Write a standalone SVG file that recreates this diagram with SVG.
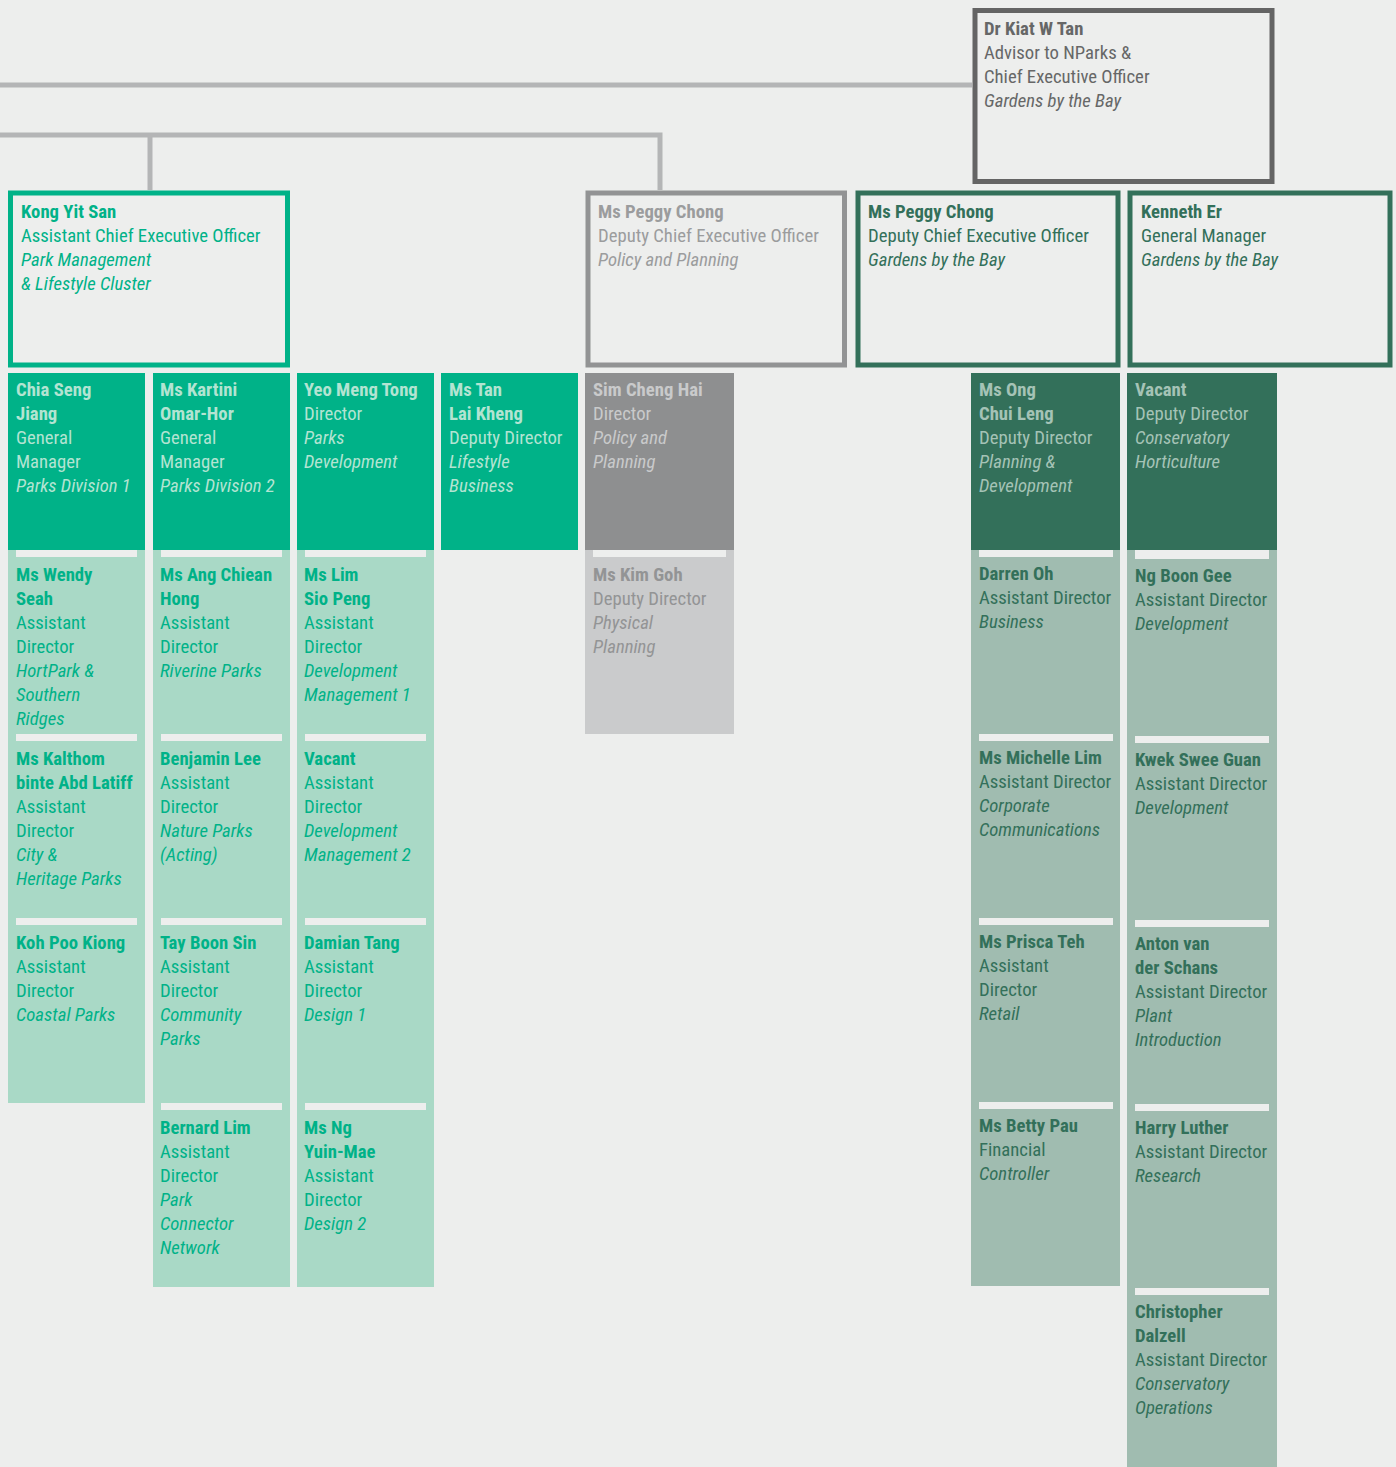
<svg xmlns="http://www.w3.org/2000/svg" width="1396" height="1467" viewBox="0 0 1396 1467">
<style>
text{font-family:"Roboto Condensed","Liberation Sans Narrow","DejaVu Sans Condensed",sans-serif;font-size:18.7px;font-weight:normal}
.b{font-weight:bold}
.i{font-style:italic}
.bar{fill:#edeeed}
.hg rect.c{fill:#00b288}.hg text{fill:#b3e4d2}
.sg rect.c{fill:#a9d9c6}.sg text{fill:#00b288}
.hd rect.c{fill:#33705a}.hd text{fill:#a5c3b6}
.sd rect.c{fill:#a0bcb0}.sd text{fill:#33705a}
.hy rect.c{fill:#8e8f90}.hy text{fill:#c9cacb}
.sy rect.c{fill:#cacbcc}.sy text{fill:#939495}
.box{fill:#edeeed;stroke-width:5}
.conn{fill:none;stroke:#b4b5b6;stroke-width:5}
</style>
<rect width="1396" height="1467" fill="#edeeed"/>
<g id="connectors">
<path class="conn" d="M0 85H972"/>
<path class="conn" d="M0 135H660V190"/>
<path class="conn" d="M150 135V190"/>
</g>
<g id="kiat-tan">
<rect class="box" x="975" y="10.5" width="297" height="171" stroke="#646464" stroke-width="6"/>
<g fill="#666767"><text x="984" y="35" class="b">Dr Kiat W Tan</text><text x="984" y="59">Advisor to NParks &amp;</text><text x="984" y="83">Chief Executive Officer</text><text x="984" y="107" class="i">Gardens by the Bay</text></g>
</g>
<g id="kong-yit-san">
<rect class="box" x="10.5" y="193" width="277" height="172" stroke="#00b288"/>
<g fill="#00b288"><text x="21" y="218" class="b">Kong Yit San</text><text x="21" y="242">Assistant Chief Executive Officer</text><text x="21" y="266" class="i">Park Management</text><text x="21" y="290" class="i">&amp; Lifestyle Cluster</text></g>
</g>
<g id="peggy-chong-policy">
<rect class="box" x="588" y="193" width="256.5" height="172" stroke="#929394"/>
<g fill="#9b9c9d"><text x="598" y="218" class="b">Ms Peggy Chong</text><text x="598" y="242">Deputy Chief Executive Officer</text><text x="598" y="266" class="i">Policy and Planning</text></g>
</g>
<g id="peggy-chong-gardens">
<rect class="box" x="858" y="193" width="260" height="172" stroke="#33705a"/>
<g fill="#33705a"><text x="868" y="218" class="b">Ms Peggy Chong</text><text x="868" y="242">Deputy Chief Executive Officer</text><text x="868" y="266" class="i">Gardens by the Bay</text></g>
</g>
<g id="kenneth-er">
<rect class="box" x="1130" y="193" width="260" height="172" stroke="#33705a"/>
<g fill="#33705a"><text x="1141" y="218" class="b">Kenneth Er</text><text x="1141" y="242">General Manager</text><text x="1141" y="266" class="i">Gardens by the Bay</text></g>
</g>

<!-- Column 1 -->
<g id="chia-seng-jiang" class="hg"><rect class="c" x="8" y="373" width="137" height="177"/>
<text x="16" y="396" class="b">Chia Seng</text><text x="16" y="420" class="b">Jiang</text><text x="16" y="444">General</text><text x="16" y="468">Manager</text><text x="16" y="492" class="i">Parks Division 1</text></g>
<g id="wendy-seah" class="sg"><rect class="c" x="8" y="550" width="137" height="184"/><rect class="bar" x="16" y="550" width="121" height="7"/>
<text x="16" y="581" class="b">Ms Wendy</text><text x="16" y="605" class="b">Seah</text><text x="16" y="629">Assistant</text><text x="16" y="653">Director</text><text x="16" y="677" class="i">HortPark &amp;</text><text x="16" y="701" class="i">Southern</text><text x="16" y="725" class="i">Ridges</text></g>
<g id="kalthom" class="sg"><rect class="c" x="8" y="734" width="137" height="184"/><rect class="bar" x="16" y="734" width="121" height="7"/>
<text x="16" y="765" class="b">Ms Kalthom</text><text x="16" y="789" class="b">binte Abd Latiff</text><text x="16" y="813">Assistant</text><text x="16" y="837">Director</text><text x="16" y="861" class="i">City &amp;</text><text x="16" y="885" class="i">Heritage Parks</text></g>
<g id="koh-poo-kiong" class="sg"><rect class="c" x="8" y="918" width="137" height="185"/><rect class="bar" x="16" y="918" width="121" height="7"/>
<text x="16" y="949" class="b">Koh Poo Kiong</text><text x="16" y="973">Assistant</text><text x="16" y="997">Director</text><text x="16" y="1021" class="i">Coastal Parks</text></g>

<!-- Column 2 -->
<g id="kartini-omar-hor" class="hg"><rect class="c" x="153" y="373" width="137" height="177"/>
<text x="160" y="396" class="b">Ms Kartini</text><text x="160" y="420" class="b">Omar-Hor</text><text x="160" y="444">General</text><text x="160" y="468">Manager</text><text x="160" y="492" class="i">Parks Division 2</text></g>
<g id="ang-chiean-hong" class="sg"><rect class="c" x="153" y="550" width="137" height="184"/><rect class="bar" x="161" y="550" width="121" height="7"/>
<text x="160" y="581" class="b">Ms Ang Chiean</text><text x="160" y="605" class="b">Hong</text><text x="160" y="629">Assistant</text><text x="160" y="653">Director</text><text x="160" y="677" class="i">Riverine Parks</text></g>
<g id="benjamin-lee" class="sg"><rect class="c" x="153" y="734" width="137" height="184"/><rect class="bar" x="161" y="734" width="121" height="7"/>
<text x="160" y="765" class="b">Benjamin Lee</text><text x="160" y="789">Assistant</text><text x="160" y="813">Director</text><text x="160" y="837" class="i">Nature Parks</text><text x="160" y="861" class="i">(Acting)</text></g>
<g id="tay-boon-sin" class="sg"><rect class="c" x="153" y="918" width="137" height="185"/><rect class="bar" x="161" y="918" width="121" height="7"/>
<text x="160" y="949" class="b">Tay Boon Sin</text><text x="160" y="973">Assistant</text><text x="160" y="997">Director</text><text x="160" y="1021" class="i">Community</text><text x="160" y="1045" class="i">Parks</text></g>
<g id="bernard-lim" class="sg"><rect class="c" x="153" y="1103" width="137" height="184"/><rect class="bar" x="161" y="1103" width="121" height="7"/>
<text x="160" y="1134" class="b">Bernard Lim</text><text x="160" y="1158">Assistant</text><text x="160" y="1182">Director</text><text x="160" y="1206" class="i">Park</text><text x="160" y="1230" class="i">Connector</text><text x="160" y="1254" class="i">Network</text></g>

<!-- Column 3 -->
<g id="yeo-meng-tong" class="hg"><rect class="c" x="297" y="373" width="137" height="177"/>
<text x="304" y="396" class="b">Yeo Meng Tong</text><text x="304" y="420">Director</text><text x="304" y="444" class="i">Parks</text><text x="304" y="468" class="i">Development</text></g>
<g id="lim-sio-peng" class="sg"><rect class="c" x="297" y="550" width="137" height="184"/><rect class="bar" x="305" y="550" width="121" height="7"/>
<text x="304" y="581" class="b">Ms Lim</text><text x="304" y="605" class="b">Sio Peng</text><text x="304" y="629">Assistant</text><text x="304" y="653">Director</text><text x="304" y="677" class="i">Development</text><text x="304" y="701" class="i">Management 1</text></g>
<g id="vacant-dm2" class="sg"><rect class="c" x="297" y="734" width="137" height="184"/><rect class="bar" x="305" y="734" width="121" height="7"/>
<text x="304" y="765" class="b">Vacant</text><text x="304" y="789">Assistant</text><text x="304" y="813">Director</text><text x="304" y="837" class="i">Development</text><text x="304" y="861" class="i">Management 2</text></g>
<g id="damian-tang" class="sg"><rect class="c" x="297" y="918" width="137" height="185"/><rect class="bar" x="305" y="918" width="121" height="7"/>
<text x="304" y="949" class="b">Damian Tang</text><text x="304" y="973">Assistant</text><text x="304" y="997">Director</text><text x="304" y="1021" class="i">Design 1</text></g>
<g id="ng-yuin-mae" class="sg"><rect class="c" x="297" y="1103" width="137" height="184"/><rect class="bar" x="305" y="1103" width="121" height="7"/>
<text x="304" y="1134" class="b">Ms Ng</text><text x="304" y="1158" class="b">Yuin-Mae</text><text x="304" y="1182">Assistant</text><text x="304" y="1206">Director</text><text x="304" y="1230" class="i">Design 2</text></g>

<!-- Column 4 -->
<g id="tan-lai-kheng" class="hg"><rect class="c" x="441" y="373" width="137" height="177"/>
<text x="449" y="396" class="b">Ms Tan</text><text x="449" y="420" class="b">Lai Kheng</text><text x="449" y="444">Deputy Director</text><text x="449" y="468" class="i">Lifestyle</text><text x="449" y="492" class="i">Business</text></g>

<!-- Gray column -->
<g id="sim-cheng-hai" class="hy"><rect class="c" x="585" y="373" width="149" height="177"/>
<text x="593" y="396" class="b">Sim Cheng Hai</text><text x="593" y="420">Director</text><text x="593" y="444" class="i">Policy and</text><text x="593" y="468" class="i">Planning</text></g>
<g id="kim-goh" class="sy"><rect class="c" x="585" y="550" width="149" height="184"/><rect class="bar" x="593" y="550" width="133" height="7"/>
<text x="593" y="581" class="b">Ms Kim Goh</text><text x="593" y="605">Deputy Director</text><text x="593" y="629" class="i">Physical</text><text x="593" y="653" class="i">Planning</text></g>

<!-- Ong column -->
<g id="ong-chui-leng" class="hd"><rect class="c" x="971" y="373" width="149" height="177"/>
<text x="979" y="396" class="b">Ms Ong</text><text x="979" y="420" class="b">Chui Leng</text><text x="979" y="444">Deputy Director</text><text x="979" y="468" class="i">Planning &amp;</text><text x="979" y="492" class="i">Development</text></g>
<g id="darren-oh" class="sd"><rect class="c" x="971" y="550" width="149" height="184"/><rect class="bar" x="979" y="550" width="134" height="7"/>
<text x="979" y="580" class="b">Darren Oh</text><text x="979" y="604">Assistant Director</text><text x="979" y="628" class="i">Business</text></g>
<g id="michelle-lim" class="sd"><rect class="c" x="971" y="734" width="149" height="184"/><rect class="bar" x="979" y="734" width="134" height="7"/>
<text x="979" y="764" class="b">Ms Michelle Lim</text><text x="979" y="788">Assistant Director</text><text x="979" y="812" class="i">Corporate</text><text x="979" y="836" class="i">Communications</text></g>
<g id="prisca-teh" class="sd"><rect class="c" x="971" y="918" width="149" height="184"/><rect class="bar" x="979" y="918" width="134" height="7"/>
<text x="979" y="948" class="b">Ms Prisca Teh</text><text x="979" y="972">Assistant</text><text x="979" y="996">Director</text><text x="979" y="1020" class="i">Retail</text></g>
<g id="betty-pau" class="sd"><rect class="c" x="971" y="1102" width="149" height="184"/><rect class="bar" x="979" y="1102" width="134" height="7"/>
<text x="979" y="1132" class="b">Ms Betty Pau</text><text x="979" y="1156">Financial</text><text x="979" y="1180" class="i">Controller</text></g>

<!-- Vacant column -->
<g id="vacant-horticulture" class="hd"><rect class="c" x="1127" y="373" width="150" height="177"/>
<text x="1135" y="396" class="b">Vacant</text><text x="1135" y="420">Deputy Director</text><text x="1135" y="444" class="i">Conservatory</text><text x="1135" y="468" class="i">Horticulture</text></g>
<g id="ng-boon-gee" class="sd"><rect class="c" x="1127" y="550" width="150" height="186"/><rect class="bar" x="1135" y="550" width="134" height="9"/>
<text x="1135" y="582" class="b">Ng Boon Gee</text><text x="1135" y="606">Assistant Director</text><text x="1135" y="630" class="i">Development</text></g>
<g id="kwek-swee-guan" class="sd"><rect class="c" x="1127" y="736" width="150" height="184"/><rect class="bar" x="1135" y="736" width="134" height="7"/>
<text x="1135" y="766" class="b">Kwek Swee Guan</text><text x="1135" y="790">Assistant Director</text><text x="1135" y="814" class="i">Development</text></g>
<g id="anton-van-der-schans" class="sd"><rect class="c" x="1127" y="920" width="150" height="184"/><rect class="bar" x="1135" y="920" width="134" height="7"/>
<text x="1135" y="950" class="b">Anton van</text><text x="1135" y="974" class="b">der Schans</text><text x="1135" y="998">Assistant Director</text><text x="1135" y="1022" class="i">Plant</text><text x="1135" y="1046" class="i">Introduction</text></g>
<g id="harry-luther" class="sd"><rect class="c" x="1127" y="1104" width="150" height="184"/><rect class="bar" x="1135" y="1104" width="134" height="7"/>
<text x="1135" y="1134" class="b">Harry Luther</text><text x="1135" y="1158">Assistant Director</text><text x="1135" y="1182" class="i">Research</text></g>
<g id="christopher-dalzell" class="sd"><rect class="c" x="1127" y="1288" width="150" height="179"/><rect class="bar" x="1135" y="1288" width="134" height="7"/>
<text x="1135" y="1318" class="b">Christopher</text><text x="1135" y="1342" class="b">Dalzell</text><text x="1135" y="1366">Assistant Director</text><text x="1135" y="1390" class="i">Conservatory</text><text x="1135" y="1414" class="i">Operations</text></g>
</svg>
